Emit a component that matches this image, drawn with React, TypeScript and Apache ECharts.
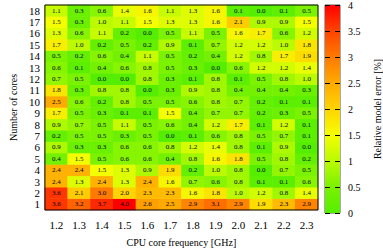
import React, { useEffect, useRef } from "react";
import * as echarts from "echarts";

const freqs = ["1.2", "1.3", "1.4", "1.5", "1.6", "1.7", "1.8", "1.9", "2.0", "2.1", "2.2", "2.3"];
const cores = ["1", "2", "3", "4", "5", "6", "7", "8", "9", "10", "11", "12", "13", "14", "15", "16", "17", "18"];

// rows from 1 core (bottom) to 18 cores (top), columns by frequency
const row1 = [3.6, 3.2, 3.7, 4.0, 2.6, 2.5, 2.9, 3.1, 2.9, 1.9, 2.3, 2.9];
const row2 = [3.6, 2.1, 3.0, 2.0, 2.3, 2.3, 1.6, 1.8, 1.0, 1.2, 0.8, 1.4];
const row3 = [2.4, 1.3, 2.4, 1.3, 2.4, 1.6, 0.7, 0.6, 0.8, 0.1, 0.1, 0.6];
const row4 = [2.4, 2.4, 1.5, 1.3, 0.9, 1.9, 0.2, 1.0, 0.8, 0.0, 0.7, 0.5];
const row5 = [0.4, 1.5, 0.5, 0.6, 0.6, 0.4, 0.8, 1.6, 1.8, 0.5, 0.8, 0.2];
const row6 = [0.9, 0.3, 0.3, 0.6, 0.6, 0.8, 1.2, 1.4, 0.8, 0.1, 0.9, 0.0];
const row7 = [0.2, 0.5, 0.5, 0.3, 0.5, 0.0, 0.1, 0.6, 0.8, 0.5, 0.7, 0.1];
const row8 = [0.9, 0.7, 0.5, 1.1, 0.5, 0.6, 0.4, 1.2, 1.7, 0.1, 1.2, 0.1];
const row9 = [1.7, 0.5, 0.3, 0.1, 0.1, 1.5, 0.4, 0.7, 0.7, 0.2, 0.3, 0.5];
const row10 = [2.5, 0.6, 0.2, 0.8, 0.5, 0.5, 0.6, 0.8, 0.7, 0.2, 0.1, 0.1];
const row11 = [1.8, 0.3, 0.8, 0.8, 0.0, 0.3, 0.9, 0.8, 0.4, 0.4, 0.4, 0.3];
const row12 = [0.7, 0.5, 0.0, 0.0, 0.8, 0.3, 0.1, 0.8, 0.1, 0.5, 0.8, 1.0];
const row13 = [0.6, 0.1, 0.4, 0.6, 0.8, 0.5, 0.3, 0.0, 0.6, 1.2, 1.2, 1.4];
const row14 = [0.5, 0.2, 0.6, 0.4, 1.1, 0.5, 0.2, 0.4, 1.2, 0.8, 1.7, 1.9];
const row15 = [1.7, 1.0, 0.2, 0.5, 0.2, 0.9, 0.1, 0.7, 1.2, 1.2, 1.0, 1.8];
const row16 = [1.3, 0.6, 1.1, 0.2, 0.0, 0.5, 1.1, 0.5, 1.6, 1.7, 0.6, 1.2];
const row17 = [1.5, 0.3, 1.0, 1.1, 1.5, 1.3, 1.3, 1.6, 2.1, 0.9, 0.9, 1.5];
const row18 = [1.1, 0.3, 0.6, 1.4, 1.6, 1.1, 1.3, 1.6, 0.1, 0.0, 0.1, 0.5];

const rows = [row1, row2, row3, row4, row5, row6, row7, row8, row9, row10, row11, row12, row13, row14, row15, row16, row17, row18];

const scaleMin = 0;
const scaleMax = 4;
const paletteColors = ["#55ee00", "#7af200", "#bbfa00", "#f4ff00", "#ffd400", "#ffaa00", "#ff7a00", "#ff4400", "#ff0000"];

const serif = "'Liberation Serif', 'DejaVu Serif', serif";

export default function App() {
  const ref = useRef<HTMLDivElement>(null);
  useEffect(() => {
    if (!ref.current) return;
    const chart = echarts.init(ref.current, undefined, { renderer: "svg" });
    const data: [number, number, number][] = [];
    rows.forEach((r, yi) => r.forEach((v, xi) => data.push([xi, yi, v])));
    const gradient = new echarts.graphic.LinearGradient(
      0, 1, 0, 0,
      paletteColors.map((c, i) => ({ offset: i / (paletteColors.length - 1), color: c }))
    );
    chart.setOption({
      animation: false,
      textStyle: { fontFamily: serif },
      grid: [
        { left: 33, top: 5, width: 285, height: 208, show: true, borderColor: "#000", borderWidth: 1, backgroundColor: "transparent", z: 5 },
        { left: 325, top: 5, width: 15, height: 208, show: true, borderColor: "#555", borderWidth: 1, backgroundColor: "transparent" },
      ],
      xAxis: [
        {
          type: "category",
          gridIndex: 0,
          data: freqs,
          axisLine: { show: false },
          axisTick: { show: false },
          axisLabel: { color: "#000", fontSize: 11, fontFamily: serif, margin: 9, interval: 0 },
          name: "CPU core frequency [GHz]",
          nameLocation: "middle",
          nameGap: 27,
          nameTextStyle: { color: "#000", fontSize: 10, fontFamily: serif },
          splitLine: { show: false },
        },
        { type: "category", gridIndex: 1, data: ["c"], show: false },
      ],
      yAxis: [
        {
          type: "category",
          gridIndex: 0,
          data: cores,
          axisLine: { show: false },
          axisTick: { show: false },
          axisLabel: { color: "#000", fontSize: 11, fontFamily: serif, margin: 5, interval: 0 },
          name: "Number of cores",
          nameLocation: "middle",
          nameGap: 23,
          nameTextStyle: { color: "#000", fontSize: 10, fontFamily: serif },
          splitLine: { show: false },
        },
        {
          type: "value",
          gridIndex: 1,
          position: "left",
          min: scaleMin,
          max: scaleMax,
          interval: 0.5,
          z: 10,
          axisLine: { show: false },
          axisTick: { show: true, inside: true, length: 5, lineStyle: { color: "#000" } },
          axisLabel: { show: false },
          splitLine: { show: false },
        },
        {
          type: "value",
          gridIndex: 1,
          position: "right",
          min: scaleMin,
          max: scaleMax,
          interval: 0.5,
          z: 10,
          axisLine: { show: false },
          axisTick: { show: true, inside: true, length: 5, lineStyle: { color: "#000" } },
          axisLabel: { show: true, color: "#000", fontSize: 10, fontFamily: serif, margin: 8 },
          splitLine: { show: false },
          name: "Relative model error [%]",
          nameLocation: "middle",
          nameRotate: 90,
          nameGap: 32,
          nameTextStyle: { color: "#000", fontSize: 10, fontFamily: serif },
        },
      ],
      visualMap: {
        type: "continuous",
        show: false,
        min: scaleMin,
        max: scaleMax,
        seriesIndex: 0,
        dimension: 2,
        inRange: { color: paletteColors },
      },
      series: [
        {
          type: "heatmap",
          xAxisIndex: 0,
          yAxisIndex: 0,
          data,
          label: {
            show: true,
            color: "#000",
            fontSize: 7,
            fontFamily: serif,
            formatter: (p: any) => Number(p.value[2]).toFixed(1),
          },
          itemStyle: { borderWidth: 0 },
          emphasis: { disabled: true },
        },
        {
          type: "bar",
          xAxisIndex: 1,
          yAxisIndex: 2,
          data: [scaleMax],
          barWidth: "100%",
          itemStyle: { color: gradient },
          silent: true,
        },
      ],
    });
    return () => chart.dispose();
  }, []);
  return <div ref={ref} style={{ width: 383, height: 252, position: "absolute", left: 0, top: 0 }} />;
}
